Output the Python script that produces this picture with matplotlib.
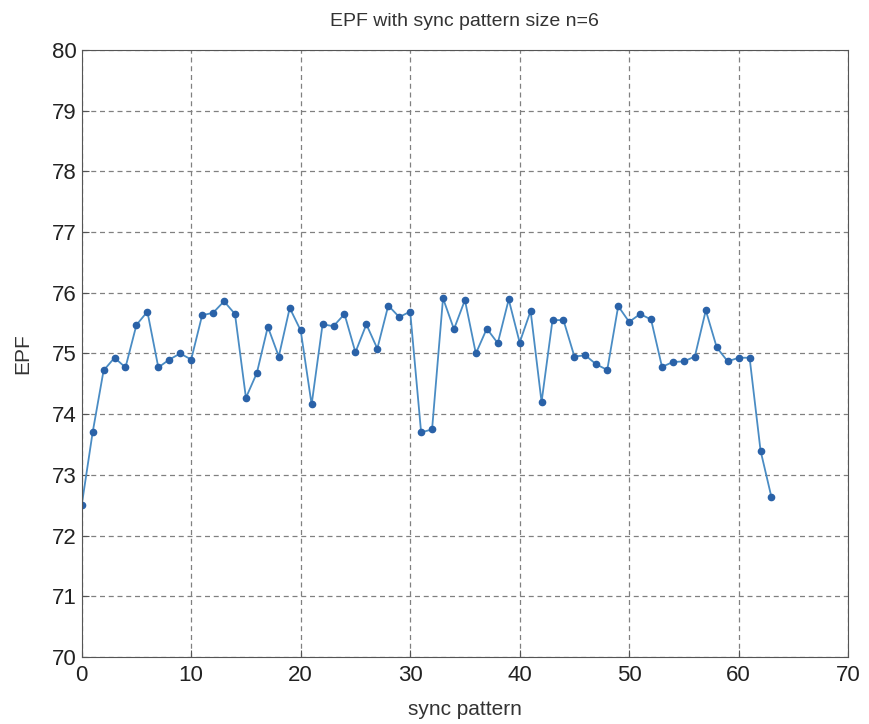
import numpy as np
import matplotlib
matplotlib.use("Agg")
import matplotlib.pyplot as plt

# dados
sync_pattern = list(range(64))
epf = [72.50, 73.70, 74.72, 74.93, 74.77, 75.47, 75.69, 74.77, 74.90, 75.00,
       74.90, 75.63, 75.67, 75.86, 75.65, 74.27, 74.68, 75.44, 74.95, 75.75,
       75.38, 74.16, 75.48, 75.45, 75.65, 75.02, 75.48, 75.08, 75.79, 75.60,
       75.69, 73.70, 73.75, 75.91, 75.40, 75.88, 75.00, 75.41, 75.17, 75.89,
       75.18, 75.70, 74.20, 75.55, 75.55, 74.95, 74.97, 74.82, 74.73, 75.78,
       75.52, 75.65, 75.56, 74.78, 74.86, 74.87, 74.95, 75.71, 75.10, 74.87,
       74.93, 74.93, 73.40, 72.63]

plt.rcParams['font.family'] = ['Liberation Sans', 'DejaVu Sans']

fig = plt.figure(figsize=(8.69, 7.24), dpi=100)
ax = fig.add_axes([0.094, 0.0925, 0.882, 0.8385])

ax.plot(sync_pattern, epf, color="#4a8cc4", lw=1.3,
        marker="o", markersize=4.5, markerfacecolor="#2a62a8", markeredgecolor="#2a62a8")

ax.set_xlim(0, 70)
ax.set_ylim(70, 80)
ax.set_xticks(range(0, 71, 10))
ax.set_yticks(range(70, 81, 1))
ax.grid(True, linestyle=(0, (4, 3)), color="#808080", lw=0.9)
ax.tick_params(labelsize=16, direction="in", length=5, color="#555555", labelcolor="#222222")
ax.tick_params(axis="x", pad=6)
for s in ax.spines.values():
    s.set_color("#555555")

ax.set_title("EPF with sync pattern size n=6", fontsize=14, color="#333333", pad=17)
ax.set_xlabel("sync pattern", fontsize=15, color="#333333", labelpad=10)
ax.set_ylabel("EPF", fontsize=15, color="#333333", labelpad=14)

fig.savefig("out.png", dpi=100)
